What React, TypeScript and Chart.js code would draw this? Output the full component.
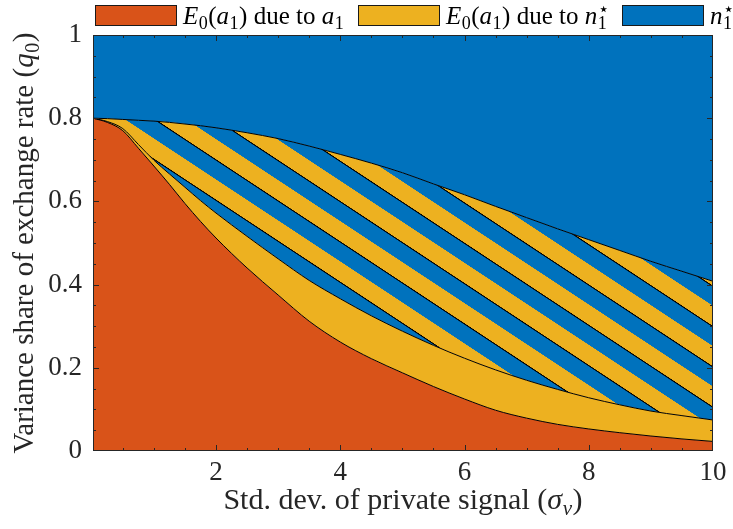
import React, { useEffect, useRef } from "react";
import { Chart, registerables } from "chart.js";

Chart.register(...registerables);

// ---- data ----
const sigmaV = [0.02, 0.25, 0.5, 0.75, 1, 1.25, 1.5, 1.75, 2, 2.5, 3, 3.5, 4, 4.5, 5, 5.5, 6, 6.5, 7, 7.5, 8, 8.5, 9, 9.5, 10];
// cumulative variance share: top of "E0(a1) due to a1"
const cumShareA1 = [0.8, 0.79, 0.77, 0.728, 0.685, 0.641, 0.595, 0.552, 0.512, 0.44, 0.375, 0.312, 0.262, 0.222, 0.188, 0.155, 0.125, 0.098, 0.079, 0.064, 0.053, 0.044, 0.036, 0.029, 0.023];
// cumulative variance share: top of the solid "E0(a1) due to n1*" band
const cumShareE0n1 = [0.8, 0.792, 0.775, 0.737, 0.699, 0.666, 0.634, 0.602, 0.572, 0.516, 0.462, 0.41, 0.366, 0.325, 0.288, 0.254, 0.223, 0.195, 0.17, 0.148, 0.128, 0.111, 0.096, 0.085, 0.0745];
// cumulative variance share: top of the hatched band (below this: shared, above: n1*)
const cumShareHatch = [0.8, 0.799, 0.797, 0.795, 0.793, 0.79, 0.786, 0.782, 0.777, 0.765, 0.751, 0.733, 0.713, 0.692, 0.669, 0.642, 0.616, 0.588, 0.561, 0.534, 0.508, 0.482, 0.456, 0.432, 0.408];

const xTickValues = [2, 4, 6, 8, 10];
const yTickValues = [0, 0.2, 0.4, 0.6, 0.8, 1];

type Seg = { t: string; it?: boolean; sub?: string; subIt?: boolean; sup?: string };

const legendLabels: Seg[][] = [
  [{ t: "E", it: true, sub: "0" }, { t: "(" }, { t: "a", it: true, sub: "1" }, { t: ") due to " }, { t: "a", it: true, sub: "1" }],
  [{ t: "E", it: true, sub: "0" }, { t: "(" }, { t: "a", it: true, sub: "1" }, { t: ") due to " }, { t: "n", it: true, sub: "1", sup: "\u22C6" }],
  [{ t: "n", it: true, sub: "1", sup: "\u22C6" }],
];
const yTitle: Seg[] = [{ t: "Variance share of exchange rate (" }, { t: "q", it: true, sub: "0" }, { t: ")" }];
const xTitle: Seg[] = [{ t: "Std. dev. of private signal (" }, { t: "\u03C3", it: true, sub: "v", subIt: true }, { t: ")" }];

// ---- styles ----
const ORANGE = "#D95319";
const YELLOW = "#EDB120";
const BLUE = "#0072BD";
const AXIS = "#262626";
const FAMILY = '"Liberation Serif", serif';
const TICK_SIZE = 27;
const X_TITLE_SIZE = 30;
const Y_TITLE_SIZE = 29;
const LEGEND_SIZE = 25;
const legendColors = [ORANGE, YELLOW, BLUE];
const legendBoxX = [95, 358, 622];

function fontStr(size: number, it?: boolean) {
  return `${it ? "italic " : ""}${size}px ${FAMILY}`;
}

function richWidth(ctx: CanvasRenderingContext2D, segs: Seg[], size: number) {
  let w = 0;
  const ss = Math.round(size * 0.7);
  for (const s of segs) {
    ctx.font = fontStr(size, s.it);
    w += ctx.measureText(s.t).width;
    let a = 0,
      b = 0;
    if (s.sub) {
      ctx.font = fontStr(ss, s.subIt);
      a = ctx.measureText(s.sub).width;
    }
    if (s.sup) {
      ctx.font = fontStr(ss, false);
      b = ctx.measureText(s.sup).width;
    }
    if (s.sub || s.sup) w += Math.max(a, b) + size * 0.04;
  }
  return w;
}

function drawRich(ctx: CanvasRenderingContext2D, segs: Seg[], x: number, baseline: number, size: number) {
  let cx = x;
  const ss = Math.round(size * 0.7);
  ctx.textBaseline = "alphabetic";
  ctx.textAlign = "left";
  for (const s of segs) {
    ctx.font = fontStr(size, s.it);
    ctx.fillText(s.t, cx, baseline);
    cx += ctx.measureText(s.t).width;
    let a = 0,
      b = 0;
    const k = size * 0.02;
    if (s.sub) {
      ctx.font = fontStr(ss, s.subIt);
      ctx.fillText(s.sub, cx + k, baseline + size * 0.2);
      a = ctx.measureText(s.sub).width;
    }
    if (s.sup) {
      ctx.font = fontStr(ss, false);
      ctx.fillText(s.sup, cx + k, baseline - size * 0.38);
      b = ctx.measureText(s.sup).width;
    }
    if (s.sub || s.sup) cx += Math.max(a, b) + size * 0.04;
  }
}

function makeHatch(ctx: CanvasRenderingContext2D): CanvasPattern | string {
  const tile = document.createElement("canvas");
  tile.width = 8;
  tile.height = 80;
  const t = tile.getContext("2d");
  if (!t) return YELLOW;
  t.fillStyle = BLUE;
  t.fillRect(0, 0, 8, 40);
  t.fillStyle = YELLOW;
  t.fillRect(0, 40, 8, 40);
  t.fillStyle = "#000";
  t.fillRect(0, 0, 8, 2.6);
  const pat = ctx.createPattern(tile, "repeat");
  if (!pat) return YELLOW;
  // skew horizontal stripes into down-right diagonal stripes
  pat.setTransform(new DOMMatrix([1, 0.66, 0, 0.504, 0, 16.7]));
  return pat;
}

const decorPlugin = {
  id: "decor",
  afterDraw(chart: any) {
    const ctx: CanvasRenderingContext2D = chart.ctx;
    const { left, right, top, bottom } = chart.chartArea;
    const xs = chart.scales.x;
    const ys = chart.scales.y;
    ctx.save();
    // inward ticks (all four sides)
    ctx.strokeStyle = AXIS;
    ctx.lineWidth = 1;
    ctx.beginPath();
    for (let v = 0.5; v < 10; v += 0.5) {
      const major = Math.abs(v / 2 - Math.round(v / 2)) < 1e-6;
      const len = major ? 6 : 3;
      const px = Math.round(xs.getPixelForValue(v)) + 0.5;
      ctx.moveTo(px, bottom);
      ctx.lineTo(px, bottom - len);
      ctx.moveTo(px, top);
      ctx.lineTo(px, top + len);
    }
    for (let i = 1; i < 20; i++) {
      const v = i * 0.05;
      const major = i % 4 === 0;
      const len = major ? 6 : 3;
      const py = Math.round(ys.getPixelForValue(v)) + 0.5;
      ctx.moveTo(left, py);
      ctx.lineTo(left + len, py);
      ctx.moveTo(right, py);
      ctx.lineTo(right - len, py);
    }
    ctx.stroke();
    // axes box
    ctx.strokeRect(Math.round(left) + 0.5, Math.round(top) + 0.5, Math.round(right - left) - 1, Math.round(bottom - top) - 1);

    // axis titles
    ctx.fillStyle = AXIS;
    const xw = richWidth(ctx, xTitle, X_TITLE_SIZE);
    drawRich(ctx, xTitle, (left + right) / 2 - xw / 2, 509, X_TITLE_SIZE);
    const yw = richWidth(ctx, yTitle, Y_TITLE_SIZE);
    ctx.save();
    ctx.translate(33, (top + bottom) / 2);
    ctx.rotate(-Math.PI / 2);
    drawRich(ctx, yTitle, -yw / 2, 0, Y_TITLE_SIZE);
    ctx.restore();

    // legend
    legendLabels.forEach((segs, i) => {
      const bx = legendBoxX[i];
      ctx.fillStyle = legendColors[i];
      ctx.fillRect(bx, 5, 82, 21);
      ctx.strokeStyle = "#1a1a1a";
      ctx.lineWidth = 1;
      ctx.strokeRect(bx + 0.5, 5.5, 81, 20);
      ctx.fillStyle = "#000";
      drawRich(ctx, segs, bx + 88, 24, LEGEND_SIZE);
    });
    ctx.restore();
  },
};

export default function App() {
  const ref = useRef<HTMLCanvasElement>(null);
  useEffect(() => {
    const canvas = ref.current;
    if (!canvas) return;
    const ctx = canvas.getContext("2d");
    if (!ctx) return;
    const hatch = makeHatch(ctx);
    const pts = (ys: number[]) => sigmaV.map((x, i) => ({ x, y: ys[i] }));
    const base = {
      pointRadius: 0,
      pointHoverRadius: 0,
      borderColor: "#000",
      borderWidth: 1,
      cubicInterpolationMode: "monotone" as const,
    };
    const chart = new Chart(ctx, {
      type: "line",
      data: {
        datasets: [
          { ...base, label: "E0(a1) due to a1", data: pts(cumShareA1), backgroundColor: ORANGE, fill: "origin" },
          { ...base, label: "E0(a1) due to n1*", data: pts(cumShareE0n1), backgroundColor: YELLOW, fill: "-1" },
          { ...base, label: "hatched (shared)", data: pts(cumShareHatch), backgroundColor: hatch as any, fill: "-1" },
          { ...base, label: "n1*", data: pts(cumShareHatch), backgroundColor: BLUE, borderColor: "rgba(0,0,0,0)", borderWidth: 0, fill: "end" },
        ],
      },
      options: {
        animation: false,
        responsive: false,
        devicePixelRatio: 1,
        events: [],
        layout: { padding: { left: 0, right: 20, top: 35, bottom: 0 } },
        plugins: {
          legend: { display: false },
          tooltip: { enabled: false },
          filler: { propagate: false, drawTime: "beforeDatasetsDraw" },
        } as any,
        scales: {
          x: {
            type: "linear",
            min: 0.02,
            max: 10,
            afterBuildTicks: (s: any) => {
              s.ticks = xTickValues.map((v) => ({ value: v }));
            },
            afterFit: (s: any) => {
              s.height = 78;
            },
            grid: { display: false, drawTicks: false },
            border: { display: false },
            ticks: { color: AXIS, font: { family: FAMILY, size: TICK_SIZE }, padding: 6, maxRotation: 0, autoSkip: false },
          },
          y: {
            type: "linear",
            min: 0,
            max: 1,
            afterBuildTicks: (s: any) => {
              s.ticks = yTickValues.map((v) => ({ value: v }));
            },
            afterFit: (s: any) => {
              s.width = 93;
            },
            grid: { display: false, drawTicks: false },
            border: { display: false },
            ticks: {
              color: AXIS,
              font: { family: FAMILY, size: TICK_SIZE },
              padding: 11,
              autoSkip: false,
              callback: (v: any) => String(Math.round(Number(v) * 10) / 10),
            },
          },
        },
      },
      plugins: [decorPlugin],
    });
    return () => chart.destroy();
  }, []);
  return (
    <div style={{ position: "absolute", left: 0, top: 0, width: 733, height: 529, background: "#fff" }}>
      <canvas ref={ref} width={733} height={529} />
    </div>
  );
}
